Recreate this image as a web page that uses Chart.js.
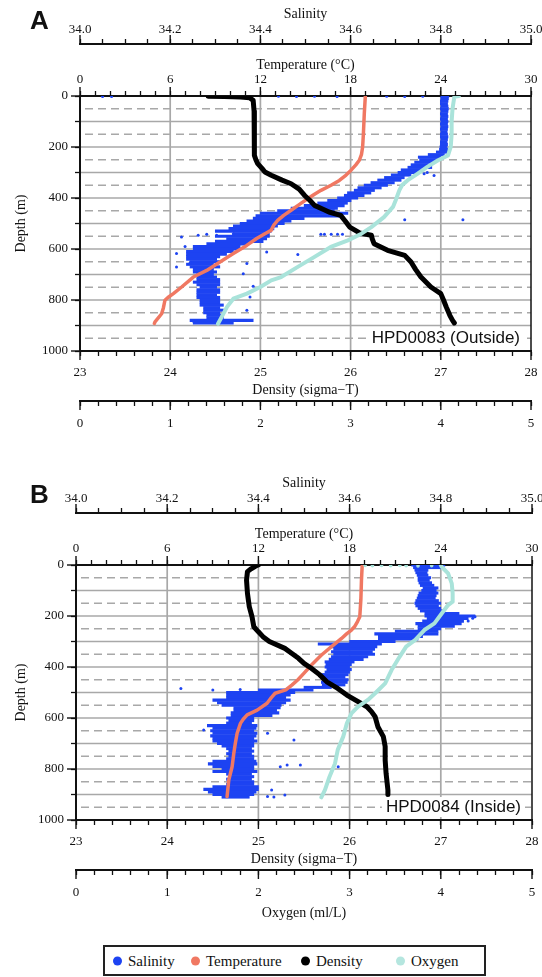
<!DOCTYPE html>
<html>
<head>
<meta charset="utf-8">
<script src="https://cdn.jsdelivr.net/npm/chart.js@4.4.1/dist/chart.umd.min.js"></script>
<style>
  html, body { margin: 0; padding: 0; background: #fff; }
  body { width: 542px; height: 977px; position: relative; overflow: hidden; font-family: 'Liberation Serif', serif; }
  canvas { position: absolute; left: 0; }
  #panelA { top: 0; }
  #panelB { top: 469px; }
  #legend { position: absolute; left: 103px; top: 945px; width: 383px; height: 31px; box-sizing: border-box; border: 2px solid #222; }
  #legend .key { position: absolute; top: 50%; transform: translateY(-50%); font-size: 15px; white-space: nowrap; color: #111; }
  #legend i { display: inline-block; width: 9px; height: 9px; border-radius: 50%; margin-right: 6px; vertical-align: middle; position: relative; top: -1px; }
</style>
</head>
<body>
<canvas id="panelA" width="542" height="441"></canvas>
<canvas id="panelB" width="542" height="457"></canvas>
<div id="legend"></div>
<script>
// axis ticks (labelled values)
const depthMajor = [0, 200, 400, 600, 800, 1000];
const salMajor = [34.0, 34.2, 34.4, 34.6, 34.8, 35.0];
const tempMajor = [0, 6, 12, 18, 24, 30];
const densMajor = [23, 24, 25, 26, 27, 28];
const oxyMajor = [0, 1, 2, 3, 4, 5];

const seriesNames = ['Salinity', 'Temperature', 'Density', 'Oxygen'];
const seriesColors = ['#1d43f2', '#f07862', '#000000', '#a9e3da'];
const legendLeft = [8, 86, 196, 291];

// ---- HPD0083 (outside) ----  rows: [depth, min salinity, max salinity]
const salRowsA = [
  [0,34.800,34.818],[10,34.800,34.817],[20,34.799,34.816],[30,34.799,34.815],[40,34.800,34.816],
  [50,34.799,34.817],[60,34.800,34.816],[70,34.799,34.815],[80,34.800,34.816],[90,34.799,34.815],
  [100,34.800,34.816],[110,34.799,34.815],[120,34.800,34.816],[130,34.799,34.815],[140,34.800,34.814],
  [150,34.799,34.815],[160,34.799,34.816],[170,34.800,34.815],[180,34.799,34.814],[190,34.799,34.815],
  [200,34.798,34.814],[210,34.797,34.815],[220,34.790,34.816],[230,34.772,34.808],[240,34.750,34.800],
  [250,34.753,34.793],[260,34.742,34.786],[270,34.734,34.771],[280,34.727,34.780],[290,34.712,34.756],
  [300,34.705,34.749],[310,34.690,34.734],[320,34.675,34.719],[330,34.660,34.712],[340,34.645,34.697],
  [350,34.630,34.682],[360,34.616,34.668],[370,34.608,34.653],[380,34.593,34.645],[390,34.586,34.630],
  [400,34.571,34.616],[410,34.549,34.601],[420,34.527,34.593],[430,34.497,34.586],[440,34.468,34.571],
  [450,34.438,34.564],[460,34.400,34.594],[470,34.390,34.579],[480,34.384,34.497],[490,34.370,34.468],
  [500,34.355,34.453],[510,34.340,34.438],[520,34.330,34.430],[530,34.300,34.424],[540,34.340,34.420],
  [550,34.300,34.420],[560,34.325,34.414],[570,34.300,34.406],[580,34.281,34.370],[590,34.251,34.355],
  [600,34.251,34.355],[610,34.236,34.340],[620,34.236,34.325],[630,34.236,34.310],[640,34.236,34.303],
  [650,34.244,34.310],[660,34.236,34.296],[670,34.244,34.310],[680,34.251,34.296],[690,34.251,34.303],
  [700,34.259,34.296],[710,34.259,34.303],[720,34.259,34.310],[730,34.251,34.310],[740,34.259,34.310],
  [750,34.266,34.303],[760,34.259,34.310],[770,34.259,34.310],[780,34.259,34.303],[790,34.259,34.310],
  [800,34.266,34.310],[810,34.266,34.310],[820,34.266,34.318],[830,34.274,34.310],[840,34.274,34.318],
  [850,34.274,34.310],[860,34.281,34.314],[870,34.281,34.318],[880,34.244,34.384],[890,34.251,34.340]
];
// scattered salinity samples [depth, salinity]
const salDotsA = [
  [2,34.05],[2,34.07],[1,34.44],[2,34.48],[1,34.52],[2,34.57],[1,34.68],[2,34.72],[1,34.76],
  [300,34.770],[305,34.763],[312,34.785],[485,34.849],[485,34.720],[542,34.534],[542,34.542],
  [542,34.557],[542,34.571],[542,34.582],[622,34.483],[553,34.225],[590,34.233],[618,34.214],
  [671,34.214],[655,34.244],[657,34.370],[697,34.362],[612,34.414],[746,34.384],[788,34.377],
  [880,34.366],[840,34.370],[546,34.262],[542,34.281],[546,34.303],[540,34.340],[882,34.251]
];
// [depth, value]
const tempA = [
  [0,18.98],[70,18.91],[150,18.85],[200,18.80],[230,18.72],[252,18.58],[270,18.35],[291,18.03],
  [310,17.70],[331,17.25],[350,16.70],[370,16.03],[385,15.60],[403,15.14],[425,14.60],[448,14.04],
  [468,13.55],[488,13.15],[505,12.90],[527,12.71],[540,12.30],[559,11.75],[586,11.09],[618,10.20],
  [651,9.31],[684,8.43],[710,7.54],[749,6.76],[775,6.21],[790,5.85],[801,5.65],[830,5.55],
  [854,5.43],[886,4.99],[892,4.95]
];
const densA = [
  [1,24.42],[2,24.60],[4,24.78],[7,24.88],[17,24.92],[60,24.93],[135,24.93],[200,24.93],
  [233,24.94],[250,24.95],[265,24.97],[285,25.02],[298,25.05],[311,25.12],[330,25.24],[344,25.34],
  [365,25.43],[390,25.49],[410,25.55],[429,25.60],[445,25.70],[455,25.76],[468,25.89],[490,25.94],
  [514,25.99],[537,26.10],[546,26.23],[560,26.24],[579,26.26],[605,26.41],[625,26.60],[651,26.67],
  [680,26.72],[710,26.78],[749,26.89],[775,27.00],[800,27.03],[827,27.06],[860,27.10],[880,27.13],
  [890,27.15]
];
const oxyA = [
  [0,4.20],[3,4.15],[50,4.13],[100,4.12],[150,4.12],[200,4.11],[233,4.08],[252,3.97],[278,3.85],
  [305,3.74],[331,3.63],[350,3.57],[370,3.54],[409,3.50],[435,3.47],[475,3.37],[514,3.23],
  [540,3.12],[566,2.97],[592,2.78],[631,2.60],[671,2.41],[710,2.23],[723,2.12],[749,2.00],
  [775,1.85],[795,1.70],[827,1.63],[867,1.57],[893,1.53]
];
const oxyDotsA = [];

// ---- HPD0084 (inside) ----
const salRowsB = [
  [0,34.736,34.809],[10,34.740,34.800],[20,34.743,34.772],[30,34.745,34.770],[40,34.748,34.772],
  [50,34.750,34.778],[60,34.750,34.775],[70,34.752,34.780],[80,34.755,34.785],[90,34.761,34.794],
  [100,34.758,34.790],[110,34.752,34.794],[120,34.750,34.790],[130,34.748,34.788],[140,34.745,34.795],
  [150,34.743,34.800],[160,34.745,34.795],[170,34.750,34.800],[180,34.755,34.805],[190,34.765,34.840],
  [200,34.765,34.875],[210,34.770,34.860],[220,34.760,34.850],[230,34.745,34.845],[240,34.750,34.830],
  [250,34.750,34.800],[260,34.700,34.794],[270,34.655,34.794],[280,34.663,34.760],[290,34.663,34.750],
  [300,34.600,34.700],[310,34.531,34.670],[320,34.560,34.660],[330,34.565,34.655],[340,34.560,34.650],
  [350,34.565,34.655],[360,34.560,34.640],[370,34.555,34.630],[380,34.546,34.610],[390,34.548,34.604],
  [400,34.546,34.600],[410,34.550,34.604],[420,34.546,34.600],[430,34.540,34.597],[440,34.538,34.590],
  [450,34.540,34.597],[460,34.538,34.595],[470,34.540,34.590],[480,34.500,34.560],[490,34.400,34.520],
  [500,34.330,34.480],[510,34.330,34.470],[520,34.330,34.460],[530,34.300,34.470],[540,34.310,34.460],
  [550,34.320,34.450],[560,34.346,34.448],[570,34.346,34.440],[580,34.340,34.445],[590,34.340,34.430],
  [600,34.330,34.390],[610,34.335,34.390],[620,34.330,34.385],[630,34.288,34.397],[640,34.300,34.395],
  [650,34.295,34.390],[660,34.300,34.397],[670,34.295,34.395],[680,34.300,34.390],[690,34.300,34.397],
  [700,34.310,34.390],[710,34.320,34.390],[720,34.330,34.385],[730,34.335,34.390],[740,34.330,34.385],
  [750,34.335,34.390],[760,34.330,34.390],[770,34.300,34.395],[780,34.290,34.397],[790,34.300,34.390],
  [800,34.320,34.390],[810,34.300,34.397],[820,34.330,34.385],[830,34.335,34.390],[840,34.330,34.385],
  [850,34.335,34.390],[860,34.330,34.390],[870,34.300,34.400],[880,34.280,34.400],[890,34.290,34.395],
  [900,34.300,34.390],[910,34.320,34.380]
];
const salDotsB = [
  [2,34.75],[1,34.78],[3,34.79],[484,34.23],[490,34.30],[488,34.36],[647,34.28],[660,34.42],
  [686,34.478],[784,34.463],[784,34.492],[791,34.448],[908,34.42],[910,34.434],[791,34.575],
  [882,34.429],[902,34.458],[203,34.875],[209,34.870],[220,34.860]
];
const tempB = [
  [0,18.83],[60,18.78],[137,18.74],[203,18.67],[222,18.52],[240,18.35],[255,18.12],[270,17.80],
  [288,17.47],[320,16.81],[353,16.15],[392,15.49],[425,14.99],[450,14.60],[471,14.20],[490,13.80],
  [503,13.10],[520,12.85],[542,12.57],[569,11.92],[588,11.26],[605,11.00],[621,10.82],[660,10.60],
  [700,10.48],[739,10.38],[791,10.27],[843,10.05],[908,9.94]
];
const densB = [
  [0,25.00],[4,24.97],[15,24.92],[26,24.88],[60,24.87],[111,24.88],[163,24.90],[203,24.93],
  [242,24.95],[262,25.00],[281,25.05],[300,25.12],[327,25.29],[345,25.36],[366,25.44],[386,25.50],
  [405,25.58],[430,25.67],[458,25.75],[484,25.87],[510,25.97],[529,26.06],[556,26.19],[575,26.24],
  [595,26.28],[634,26.31],[673,26.37],[712,26.39],[765,26.39],[817,26.40],[882,26.42],[900,26.42]
];
const oxyB = [
  [0,4.00],[7,4.01],[33,4.08],[72,4.12],[111,4.13],[144,4.13],[157,4.08],[190,4.01],[229,3.93],
  [255,3.82],[294,3.72],[320,3.62],[359,3.55],[412,3.46],[464,3.39],[503,3.28],[529,3.20],
  [556,3.09],[582,3.02],[621,2.97],[673,2.93],[725,2.87],[778,2.84],[830,2.78],[882,2.73],[911,2.69]
];
const oxyDotsB = [[2,3.17],[3,3.25],[2,3.35],[3,3.45],[2,3.55],[3,3.62],[4,3.75],[3,3.90]];

Chart.defaults.font.family = "'Liberation Serif', serif";
Chart.defaults.color = '#111';

const isMajor = (v, list) => list.some(m => Math.abs(m - v) < 1e-6);
const toXY = rows => rows.map(([d, v]) => ({x: v, y: d}));

function axisX(o) {
  return {
    type: 'linear', axis: 'x', position: o.pos, weight: o.weight,
    min: o.majors[0], max: o.majors[o.majors.length - 1], offset: false,
    afterFit: s => { s.height = o.size; s.paddingLeft = 0; s.paddingRight = 0; },
    ticks: {
      stepSize: o.step, maxTicksLimit: 200, autoSkip: false, maxRotation: 0, minRotation: 0,
      padding: o.tickPad, color: '#111', font: {size: 13},
      callback: v => isMajor(v, o.majors) ? v.toFixed(o.digits) : ''
    },
    grid: {drawOnChartArea: false, tickLength: 5, tickWidth: 1.3, tickColor: '#111', color: '#111'},
    border: {color: '#111', width: 2},
    title: {display: !!o.title, text: o.title || '', color: '#111', font: {size: 14}, padding: o.titlePad}
  };
}

// longer marks on labelled ticks, right frame, station name, panel letter
const frame = {
  id: 'frame',
  beforeDatasetsDraw(chart) {
    const {ctx, chartArea: {left, right, top, bottom}, scales: {temp, y}} = chart;
    ctx.save();
    ctx.strokeStyle = '#a8a8a8';
    ctx.lineWidth = 1.7;
    temp.ticks.forEach(t => {
      if (t.value > 0 && t.value < 30 && isMajor(t.value, tempMajor)) {
        const x = temp.getPixelForValue(t.value);
        ctx.beginPath(); ctx.moveTo(x, top + 1); ctx.lineTo(x, bottom - 1); ctx.stroke();
      }
    });
    const vals = y.ticks.map(t => t.value);
    vals.forEach((v, i) => {
      if (i > 0 && i < vals.length - 1) {
        const py = y.getPixelForValue(v);
        ctx.setLineDash([]);
        ctx.beginPath(); ctx.moveTo(left + 1, py); ctx.lineTo(right, py); ctx.stroke();
      }
      if (i < vals.length - 1) {
        const py = y.getPixelForValue((v + vals[i + 1]) / 2);
        ctx.setLineDash([8, 5]);
        ctx.beginPath(); ctx.moveTo(left + 5, py); ctx.lineTo(right, py); ctx.stroke();
      }
    });
    ctx.restore();
  },
  afterDatasetsDraw(chart, args, opts) {
    const {ctx, chartArea: {left, right, top, bottom}, scales} = chart;
    ctx.save();
    ctx.strokeStyle = '#111';
    ctx.lineWidth = 1.5;
    ctx.beginPath(); ctx.moveTo(right, top); ctx.lineTo(right, bottom); ctx.stroke();
    const majors = {sal: salMajor, temp: tempMajor, dens: densMajor, oxy: oxyMajor, y: depthMajor};
    ctx.lineWidth = 1.4;
    Object.keys(majors).forEach(id => {
      const s = scales[id];
      majors[id].forEach(v => {
        const p = s.getPixelForValue(v);
        ctx.beginPath();
        if (s.position === 'top') { ctx.moveTo(p, s.bottom); ctx.lineTo(p, s.bottom - 9); }
        else if (s.position === 'bottom') { ctx.moveTo(p, s.top); ctx.lineTo(p, s.top + 9); }
        else { ctx.moveTo(s.right, p); ctx.lineTo(s.right - 9, p); }
        ctx.stroke();
      });
    });
    // station label
    ctx.font = "17px 'Liberation Sans', Arial, sans-serif";
    ctx.textAlign = 'right';
    ctx.textBaseline = 'middle';
    const w = ctx.measureText(opts.station).width;
    const tx = right - 11, ty = bottom - 13;
    ctx.fillStyle = '#fff';
    ctx.fillRect(tx - w - 4, ty - 10, w + 8, 20);
    ctx.fillStyle = '#111';
    ctx.fillText(opts.station, tx, ty);
    // panel letter
    ctx.font = "bold 26px 'Liberation Sans', Arial, sans-serif";
    ctx.textAlign = 'left';
    ctx.fillText(opts.letter, 30, opts.letterY);
    ctx.restore();
  }
};

function makePanel(id, p) {
  const datasets = [
    {type: 'bar', label: 'Salinity', indexAxis: 'y', xAxisID: 'sal', yAxisID: 'y', grouped: false,
     data: p.salRows.map(([d, lo, hi]) => ({y: d, x: [lo, hi]})),
     barThickness: 2.4, backgroundColor: seriesColors[0], borderWidth: 0, order: 6},
    {label: 'Salinity', xAxisID: 'sal', yAxisID: 'y', data: toXY(p.salDots),
     pointRadius: 1.5, pointBackgroundColor: seriesColors[0], pointBorderWidth: 0, order: 5},
    {label: 'Temperature', xAxisID: 'temp', yAxisID: 'y', data: toXY(p.temp), showLine: true,
     pointRadius: 0, borderColor: seriesColors[1], borderWidth: 3.5, borderJoinStyle: 'round', borderCapStyle: 'round', order: 4},
    {label: 'Density', xAxisID: 'dens', yAxisID: 'y', data: toXY(p.dens), showLine: true,
     pointRadius: 0, borderColor: seriesColors[2], borderWidth: 5, borderJoinStyle: 'round', borderCapStyle: 'round', order: 3},
    {label: 'Oxygen', xAxisID: 'oxy', yAxisID: 'y', data: toXY(p.oxy), showLine: true,
     pointRadius: 0, borderColor: seriesColors[3], borderWidth: 4, borderJoinStyle: 'round', borderCapStyle: 'round', order: 2},
    {label: 'Oxygen', xAxisID: 'oxy', yAxisID: 'y', data: toXY(p.oxyDots),
     pointRadius: 1.8, pointBackgroundColor: seriesColors[3], pointBorderWidth: 0, order: 1}
  ];
  return new Chart(document.getElementById(id), {
    type: 'scatter',
    data: {datasets},
    options: {
      responsive: false, animation: false, events: [],
      layout: {padding: {top: 0, left: 0, right: p.padRight, bottom: 0}, autoPadding: false},
      plugins: {legend: {display: false}, tooltip: {enabled: false},
        frame: {station: p.station, letter: p.letter, letterY: p.letterY}},
      scales: {
        sal: axisX({pos: 'top', weight: 1, majors: salMajor, step: 0.05, digits: 1, size: 44,
          tickPad: 2, title: 'Salinity', titlePad: {top: 6, bottom: 0}}),
        temp: axisX({pos: 'top', weight: 0, majors: tempMajor, step: 1, digits: 0, size: 52,
          tickPad: 4, title: 'Temperature (°C)', titlePad: {top: 13, bottom: 0}}),
        dens: axisX({pos: 'bottom', weight: 0, majors: densMajor, step: 0.2, digits: 0, size: 50,
          tickPad: 9, title: 'Density (sigma\u2212T)', titlePad: {top: 0, bottom: 2}}),
        oxy: axisX({pos: 'bottom', weight: 1, majors: oxyMajor, step: 0.2, digits: 0, size: p.oxySize,
          tickPad: 10, title: p.oxyTitle, titlePad: {top: 0, bottom: 4}}),
        y: {
          type: 'linear', axis: 'y', position: 'left', reverse: true, min: 0, max: 1000, offset: false,
          afterFit: s => { s.width = p.yWidth; s.paddingTop = 0; s.paddingBottom = 0; },
          ticks: {stepSize: 100, padding: 7, color: '#111', font: {size: 13},
            callback: v => isMajor(v, depthMajor) ? String(v) : ''},
          grid: {drawOnChartArea: false, offset: false, tickLength: 5, tickWidth: 1.3, tickColor: '#111', color: '#111'},
          border: {color: '#111', width: 2},
          title: {display: true, text: 'Depth (m)', color: '#111', font: {size: 14}, padding: {top: 13, bottom: 0}}
        }
      }
    },
    plugins: [frame]
  });
}

makePanel('panelA', {
  salRows: salRowsA, salDots: salDotsA, temp: tempA, dens: densA, oxy: oxyA, oxyDots: oxyDotsA,
  station: 'HPD0083 (Outside)', letter: 'A', letterY: 22, padRight: 11, yWidth: 80, oxySize: 40, oxyTitle: ''
});
makePanel('panelB', {
  salRows: salRowsB, salDots: salDotsB, temp: tempB, dens: densB, oxy: oxyB, oxyDots: oxyDotsB,
  station: 'HPD0084 (Inside)', letter: 'B', letterY: 27, padRight: 10, yWidth: 76, oxySize: 56, oxyTitle: 'Oxygen (ml/L)'
});

// legend
const legend = document.getElementById('legend');
seriesNames.forEach((name, i) => {
  const key = document.createElement('span');
  key.className = 'key';
  key.style.left = legendLeft[i] + 'px';
  const dot = document.createElement('i');
  dot.style.background = seriesColors[i] === '#a9e3da' ? '#b5e6df' : seriesColors[i];
  key.appendChild(dot);
  key.appendChild(document.createTextNode(name));
  legend.appendChild(key);
});
</script>
</body>
</html>
